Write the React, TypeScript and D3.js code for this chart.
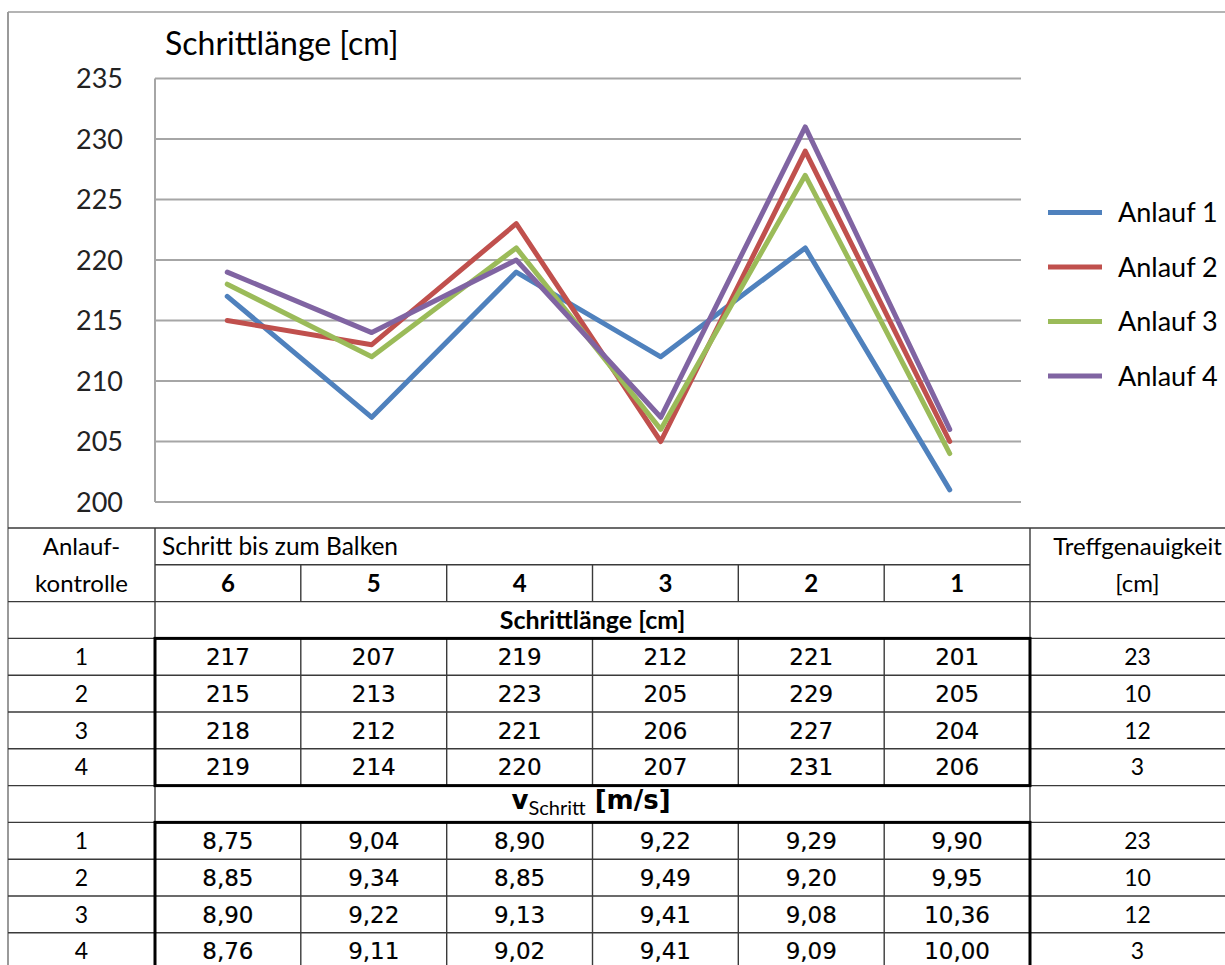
import React from "react";
import * as d3 from "d3";

// Steps before the beam (chart categories / table columns)
const steps = ["6", "5", "4", "3", "2", "1"];
const runs = ["Anlauf 1", "Anlauf 2", "Anlauf 3", "Anlauf 4"];

// Stride length [cm] per run
const strideRun1 = [217, 207, 219, 212, 221, 201];
const strideRun2 = [215, 213, 223, 205, 229, 205];
const strideRun3 = [218, 212, 221, 206, 227, 204];
const strideRun4 = [219, 214, 220, 207, 231, 206];
const strideRuns = [strideRun1, strideRun2, strideRun3, strideRun4];

// Stride velocity [m/s] per run
const speedRun1 = [8.75, 9.04, 8.9, 9.22, 9.29, 9.9];
const speedRun2 = [8.85, 9.34, 8.85, 9.49, 9.2, 9.95];
const speedRun3 = [8.9, 9.22, 9.13, 9.41, 9.08, 10.36];
const speedRun4 = [8.76, 9.11, 9.02, 9.41, 9.09, 10.0];
const speedRuns = [speedRun1, speedRun2, speedRun3, speedRun4];

// Hit accuracy [cm] per run
const accuracy = [23, 10, 12, 3];

const yTicks = [200, 205, 210, 215, 220, 225, 230, 235];
const colors = ["#4F81BD", "#C0504D", "#9BBB59", "#8064A2"];

const W = 1225;
const H = 965;
const calibri = "Lato, 'Open Sans', sans-serif";
const tahoma = "'DejaVu Sans', Verdana, sans-serif";

const fmtSpeed = (v: number) => d3.format(".2f")(v).replace(".", ",");

export default function App() {
  // chart scales
  const x = d3.scaleBand<string>().domain(steps).range([155, 1022]);
  const y = d3.scaleLinear().domain([200, 235]).range([502, 78.5]);
  const line = d3
    .line<number>()
    .x((_, i) => (x(steps[i]) as number) + x.bandwidth() / 2)
    .y((d) => y(d));

  // table geometry
  const colEdges = [8, 155, 300.8, 446.7, 592.5, 738.3, 884.2, 1030, 1245];
  const rowTop = 528;
  const rowH = 36.8;
  const rowY = (i: number) => rowTop + i * rowH;
  const nRows = 12;
  const colMid = (i: number) => (colEdges[i] + colEdges[i + 1]) / 2;
  const thin = "#3a3a3a";

  const hLines: { y: number; x1: number; x2: number }[] = [];
  hLines.push({ y: rowY(0), x1: 8, x2: W });
  hLines.push({ y: rowY(1), x1: 155, x2: 1030 });
  for (let i = 2; i <= nRows; i++) hLines.push({ y: rowY(i), x1: 8, x2: W });

  const innerCols = colEdges.slice(2, 7);

  const stridesStart = 3; // row index of first stride row
  const speedsStart = 8; // row index of first speed row

  const valueStyle = { fontFamily: tahoma, fontSize: 23, fill: "#000", stroke: "#000", strokeWidth: 0.2 };

  return (
    <div style={{ position: "absolute", left: 0, top: 0, width: W, height: H, overflow: "hidden", background: "#fff" }}>
      <svg width={W} height={H} style={{ display: "block" }}>
        <rect x={0} y={0} width={W} height={H} fill="#fff" />
        {/* outer frame */}
        <line x1={8} y1={12} x2={W} y2={12} stroke="#b4b4b4" strokeWidth={2} />
        <line x1={8} y1={12} x2={8} y2={H} stroke="#9a9a9a" strokeWidth={2} />

        {/* chart title */}
        <text x={165} y={55} fontFamily={calibri} fontSize={32} fill="#000">
          Schrittlänge [cm]
        </text>

        {/* gridlines */}
        {yTicks.map((t) => (
          <line key={t} x1={155} x2={1021} y1={y(t)} y2={y(t)} stroke="#a6a6a6" strokeWidth={2} />
        ))}
        <line x1={155} x2={155} y1={y(235)} y2={y(200)} stroke="#a6a6a6" strokeWidth={2} />
        {yTicks.map((t) => (
          <text key={t} x={123} y={y(t)} dy="0.36em" textAnchor="end" fontFamily={calibri} fontSize={27} fill="#222">
            {t}
          </text>
        ))}

        {/* series */}
        {strideRuns.map((vals, i) => (
          <path key={i} d={line(vals) ?? ""} fill="none" stroke={colors[i]} strokeWidth={5} strokeLinejoin="round" strokeLinecap="round" />
        ))}

        {/* legend */}
        {runs.map((r, i) => {
          const ly = 212.5 + i * 54.5;
          return (
            <g key={r}>
              <line x1={1048} x2={1102} y1={ly} y2={ly} stroke={colors[i]} strokeWidth={5} />
              <text x={1118} y={ly} dy="0.36em" fontFamily={calibri} fontSize={27} fill="#000">
                {r}
              </text>
            </g>
          );
        })}

        {/* table grid */}
        {hLines.map((l, i) => (
          <line key={"h" + i} x1={l.x1} x2={l.x2} y1={l.y} y2={l.y} stroke={thin} strokeWidth={1.4} />
        ))}
        <line x1={155} x2={155} y1={rowY(0)} y2={H} stroke={thin} strokeWidth={1.4} />
        <line x1={1030} x2={1030} y1={rowY(0)} y2={H} stroke={thin} strokeWidth={1.4} />
        {innerCols.map((cx, i) => (
          <g key={"v" + i}>
            <line x1={cx} x2={cx} y1={rowY(1)} y2={rowY(2)} stroke={thin} strokeWidth={1.4} />
            <line x1={cx} x2={cx} y1={rowY(3)} y2={rowY(7)} stroke={thin} strokeWidth={1.4} />
            <line x1={cx} x2={cx} y1={rowY(8)} y2={H} stroke={thin} strokeWidth={1.4} />
          </g>
        ))}
        {/* bold frames around the value blocks */}
        <rect x={155} y={rowY(3)} width={875} height={rowH * 4} fill="none" stroke="#000" strokeWidth={3} />
        <rect x={155} y={rowY(8)} width={875} height={rowH * 4} fill="none" stroke="#000" strokeWidth={3} />

        {/* header rows */}
        <text x={colMid(0)} y={(rowY(0) + rowY(1)) / 2} dy="0.36em" textAnchor="middle" fontFamily={calibri} fontSize={24} fill="#000">
          Anlauf-
        </text>
        <text x={colMid(0)} y={(rowY(1) + rowY(2)) / 2} dy="0.36em" textAnchor="middle" fontFamily={calibri} fontSize={24} fill="#000">
          kontrolle
        </text>
        <text x={162} y={(rowY(0) + rowY(1)) / 2} dy="0.36em" fontFamily={calibri} fontSize={24.5} fill="#000">
          Schritt bis zum Balken
        </text>
        {steps.map((s, i) => (
          <text key={s} x={colMid(i + 1)} y={(rowY(1) + rowY(2)) / 2} dy="0.36em" textAnchor="middle" fontFamily={calibri} fontWeight={700} fontSize={24} fill="#000">
            {s}
          </text>
        ))}
        <text x={colMid(7)} y={(rowY(0) + rowY(1)) / 2} dy="0.36em" textAnchor="middle" fontFamily={calibri} fontSize={24} fill="#000">
          Treffgenauigkeit
        </text>
        <text x={colMid(7)} y={(rowY(1) + rowY(2)) / 2} dy="0.36em" textAnchor="middle" fontFamily={calibri} fontSize={24} fill="#000">
          [cm]
        </text>

        {/* section headers */}
        <text x={592.5} y={(rowY(2) + rowY(3)) / 2} dy="0.36em" textAnchor="middle" fontFamily={calibri} fontWeight={700} fontSize={25} fill="#000">
          Schrittlänge [cm]
        </text>
        <text x={591} y={(rowY(7) + rowY(8)) / 2} dy="0.3em" textAnchor="middle" fill="#000">
          <tspan fontFamily={tahoma} fontWeight={700} fontSize={26}>v</tspan>
          <tspan fontFamily={calibri} fontSize={20} dy={6}>Schritt</tspan>
          <tspan fontFamily={tahoma} fontWeight={700} fontSize={26} dy={-6}> [m/s]</tspan>
        </text>

        {/* stride values */}
        {strideRuns.map((vals, r) => {
          const cy = (rowY(stridesStart + r) + rowY(stridesStart + r + 1)) / 2;
          return (
            <g key={"s" + r}>
              <text x={colMid(0)} y={cy} dy="0.36em" textAnchor="middle" fontFamily={calibri} fontSize={23} fill="#000">
                {r + 1}
              </text>
              {vals.map((v, c) => (
                <text key={c} x={colMid(c + 1)} y={cy} dy="0.36em" textAnchor="middle" {...valueStyle}>
                  {v}
                </text>
              ))}
              <text x={colMid(7)} y={cy} dy="0.36em" textAnchor="middle" fontFamily={calibri} fontSize={23} fill="#000">
                {accuracy[r]}
              </text>
            </g>
          );
        })}

        {/* speed values */}
        {speedRuns.map((vals, r) => {
          const cy = (rowY(speedsStart + r) + rowY(speedsStart + r + 1)) / 2;
          return (
            <g key={"v" + r}>
              <text x={colMid(0)} y={cy} dy="0.36em" textAnchor="middle" fontFamily={calibri} fontSize={23} fill="#000">
                {r + 1}
              </text>
              {vals.map((v, c) => (
                <text key={c} x={colMid(c + 1)} y={cy} dy="0.36em" textAnchor="middle" {...valueStyle}>
                  {fmtSpeed(v)}
                </text>
              ))}
              <text x={colMid(7)} y={cy} dy="0.36em" textAnchor="middle" fontFamily={calibri} fontSize={23} fill="#000">
                {accuracy[r]}
              </text>
            </g>
          );
        })}
      </svg>
    </div>
  );
}
